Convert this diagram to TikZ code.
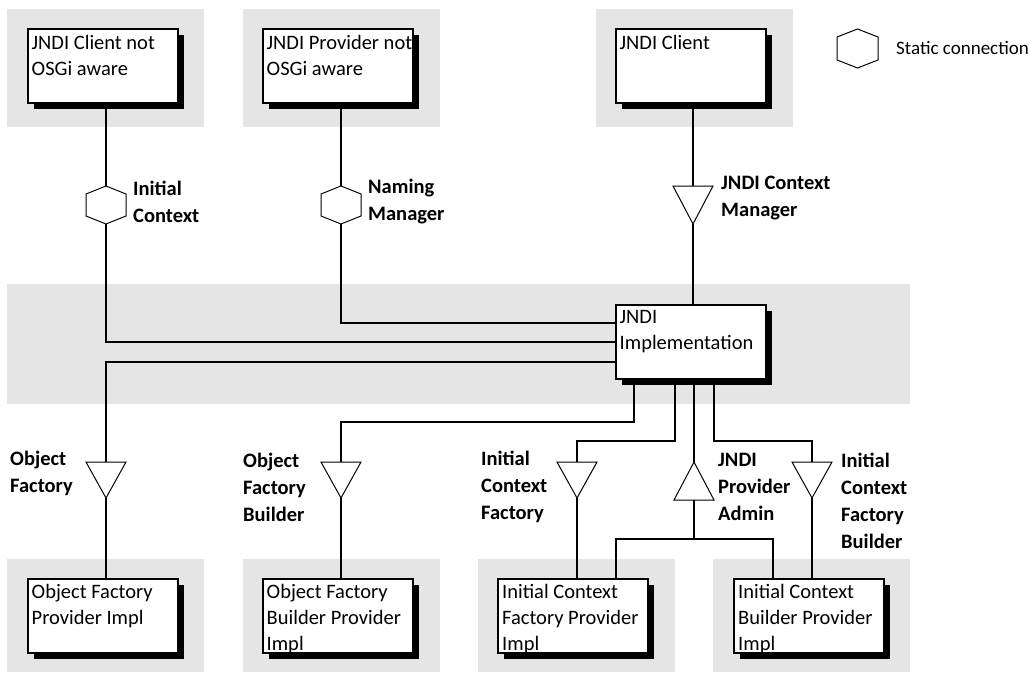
\documentclass[tikz,border=0pt]{standalone}
\usepackage{fontspec}
\setmainfont{Carlito}
\usetikzlibrary{calc,shadows}
\definecolor{bggray}{RGB}{229,229,229}
\begin{document}
\begin{tikzpicture}[x=1pt,y=-1pt,
  box/.style={draw, line width=2pt, fill=white, minimum width=150pt, minimum height=74pt, inner sep=0pt,
    drop shadow={shadow xshift=6pt, shadow yshift=-6pt, fill=black, opacity=1}},
  boxtext/.style={font=\fontsize{20.5}{26}\selectfont, align=left, inner sep=0pt, anchor=north west},
  lbl/.style={font=\bfseries\fontsize{20.5}{27}\selectfont, align=left, inner sep=0pt, anchor=west},
  conn/.style={line width=2pt},
  sym/.style={line width=1pt, fill=white, line join=miter},
  bg/.style={fill=bggray}]
\useasboundingbox (0,0) rectangle (1030,672);
% gray regions
\fill[bg] (7,9) rectangle (204,127);
\fill[bg] (243,9) rectangle (440,127);
\fill[bg] (596,9) rectangle (793,127);
\fill[bg] (7,284) rectangle (910,404);
\fill[bg] (7,559) rectangle (204,672);
\fill[bg] (243,559) rectangle (440,672);
\fill[bg] (478,559) rectangle (675,672);
\fill[bg] (713,559) rectangle (910,672);
% symbol coordinates
\coordinate (hAt) at (106,186); \coordinate (hAb) at (106,224);
\coordinate (hBt) at (341,186); \coordinate (hBb) at (341,224);
\coordinate (tCt) at (693,186); \coordinate (tCb) at (693,224);
\coordinate (tDt) at (106,462); \coordinate (tDb) at (106,498);
\coordinate (tEt) at (341,462); \coordinate (tEb) at (341,498);
\coordinate (tFt) at (577,462); \coordinate (tFb) at (577,498);
\coordinate (tGt) at (694,462); \coordinate (tGb) at (694,500);
\coordinate (tHt) at (812,462); \coordinate (tHb) at (812,498);
\coordinate (hLt) at (857.5,29);
% box positions
\path
  (102.5,66) coordinate (pcnot)
  (337.5,66) coordinate (ppnot)
  (690.5,65.5) coordinate (pclient)
  (690.5,341.5) coordinate (pimpl)
  (102.5,616) coordinate (pofp)
  (337.5,616) coordinate (pofbp)
  (573,616) coordinate (picfp)
  (809,616) coordinate (picbp);
% anchor nodes (same size as the boxes)
\begin{scope}[every node/.style={minimum width=150pt, minimum height=74pt, inner sep=0pt}]
\node (cnot) at (pcnot) {};
\node (pnot) at (ppnot) {};
\node (client) at (pclient) {};
\node (impl) at (pimpl) {};
\node (ofp) at (pofp) {};
\node (ofbp) at (pofbp) {};
\node (icfp) at (picfp) {};
\node (icbp) at (picbp) {};
\end{scope}
% connectors
\draw[conn] (cnot.south -| hAt) -- (hAt);
\draw[conn] (hAb) |- (impl.west |- 0,342);
\draw[conn] (pnot.south -| hBt) -- (hBt);
\draw[conn] (hBb) |- (impl.west |- 0,323);
\draw[conn] (client.south -| tCt) -- (tCt);
\draw[conn] (tCb) -- (impl.north -| tCb);
\draw[conn] (impl.west |- 0,362) -| (tDt);
\draw[conn] (tDb) -- (ofp.north -| tDb);
\draw[conn] (impl.south -| 634,0) -- ++(0,43) -| (tEt);
\draw[conn] (tEb) -- (ofbp.north -| tEb);
\draw[conn] (impl.south -| 675,0) -- ++(0,62) -| (tFt);
\draw[conn] (tFb) -- (icfp.north -| tFb);
\draw[conn] (impl.south -| tGt) -- (tGt);
\draw[conn] (tGb) -- ++(0,39) coordinate (split);
\draw[conn] (icfp.north -| 616,0) |- (split) -| (icbp.north -| 773,0);
\draw[conn] (impl.south -| 714,0) -- ++(0,62) -| (tHt);
\draw[conn] (tHb) -- (icbp.north -| tHb);
% symbols
\draw[sym] (hAt) -- ++(20,8) -- ++(0,22) -- ++(-20,8) -- ++(-20,-8) -- ++(0,-22) -- cycle;
\draw[sym] (hBt) -- ++(20,8) -- ++(0,22) -- ++(-20,8) -- ++(-20,-8) -- ++(0,-22) -- cycle;
\draw[sym] (hLt) -- ++(20.5,8) -- ++(0,23) -- ++(-20.5,8) -- ++(-20.5,-8) -- ++(0,-23) -- cycle;
\draw[sym] ($(tCt)+(-20,0)$) -- ($(tCt)+(20,0)$) -- (tCb) -- cycle;
\draw[sym] ($(tDt)+(-20,0)$) -- ($(tDt)+(20,0)$) -- (tDb) -- cycle;
\draw[sym] ($(tEt)+(-20,0)$) -- ($(tEt)+(20,0)$) -- (tEb) -- cycle;
\draw[sym] ($(tFt)+(-20,0)$) -- ($(tFt)+(20,0)$) -- (tFb) -- cycle;
\draw[sym] ($(tHt)+(-20,0)$) -- ($(tHt)+(20,0)$) -- (tHb) -- cycle;
\draw[sym] ($(tGb)+(-20,0)$) -- ($(tGb)+(20,0)$) -- (tGt) -- cycle;
% boxes
\node[box] (bcnot) at (pcnot) {};
\node[box] (bpnot) at (ppnot) {};
\node[box] (bclient) at (pclient) {};
\node[box] (bimpl) at (pimpl) {};
\node[box] (bofp) at (pofp) {};
\node[box] (bofbp) at (pofbp) {};
\node[box] (bicfp) at (picfp) {};
\node[box] (bicbp) at (picbp) {};
% box texts
\node[boxtext] (t1) at ($(bcnot.north west)+(5,7.5)$) {JNDI Client not\\OSGi aware};
\node[boxtext] (t2) at ($(bpnot.north west)+(5,7.5)$) {JNDI Provider not\\OSGi aware};
\node[boxtext] (t3) at ($(bclient.north west)+(5,7.5)$) {JNDI Client};
\node[boxtext] (t4) at ($(bimpl.north west)+(5,6.5)$) {JNDI\\Implementation};
\node[boxtext] (t5) at ($(bofp.north west)+(5,6.5)$) {Object Factory\\Provider Impl};
\node[boxtext] (t6) at ($(bofbp.north west)+(5,6.5)$) {Object Factory\\Builder Provider\\Impl};
\node[boxtext] (t7) at ($(bicfp.north west)+(5,6.5)$) {Initial Context\\Factory Provider\\Impl};
\node[boxtext] (t8) at ($(bicbp.north west)+(5,6.5)$) {Initial Context\\Builder Provider\\Impl};
% labels
\node[lbl] (lA) at (133,201.5) {Initial\\Context};
\node[lbl] (lB) at (368,201.5) {Naming\\Manager};
\node[lbl] (lC) at (721,198.5) {JNDI Context\\Manager};
\node[lbl] (lD) at (10,473.5) {Object\\Factory};
\node[lbl] (lE) at (243,487) {Object\\Factory\\Builder};
\node[lbl] (lF) at (481,487) {Initial\\Context\\Factory};
\node[lbl] (lG) at (718,487) {JNDI\\Provider\\Admin};
\node[lbl] (lH) at (841,500.5) {Initial\\Context\\Factory\\Builder};
% legend
\node[anchor=west, inner sep=0pt, font=\fontsize{19}{26}\selectfont] (legtxt) at (896,48) {Static connection};
\end{tikzpicture}
\end{document}
